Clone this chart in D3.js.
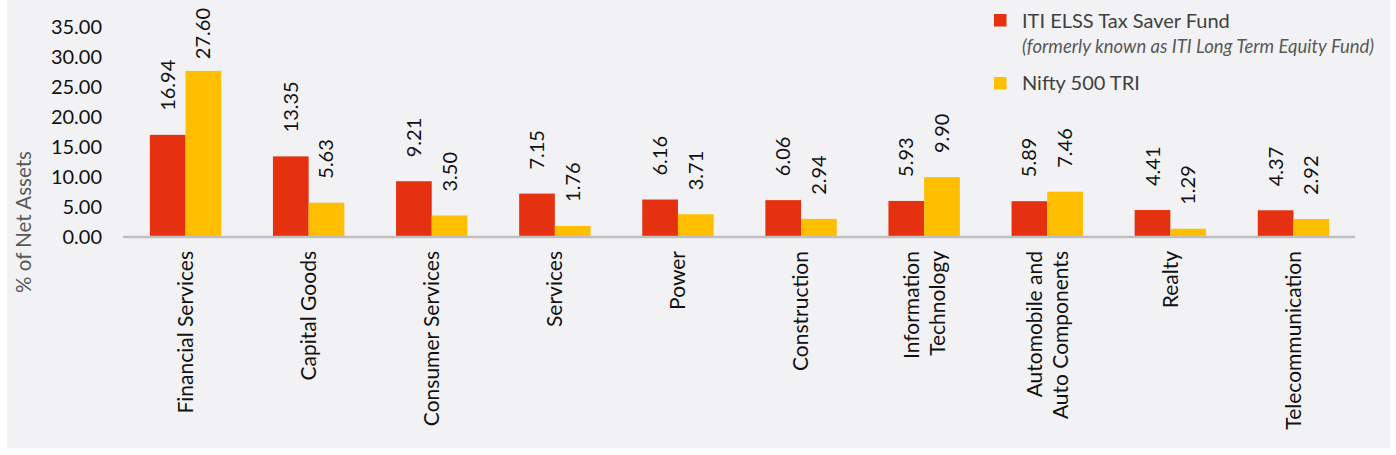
<!DOCTYPE html>
<html>
<head>
<meta charset="utf-8">
<script src="https://cdn.jsdelivr.net/npm/d3@7"></script>
<style>
  html, body { margin: 0; padding: 0; background: #ffffff; }
  svg { display: block; }
  text { font-family: Lato, "Open Sans", sans-serif; }
</style>
</head>
<body>
<svg id="chart" width="1396" height="455"></svg>
<script>
const categories = [
  ["Financial Services"],
  ["Capital Goods"],
  ["Consumer Services"],
  ["Services"],
  ["Power"],
  ["Construction"],
  ["Information", "Technology"],
  ["Automobile and", "Auto Components"],
  ["Realty"],
  ["Telecommunication"]
];
const fundValues  = [16.94, 13.35, 9.21, 7.15, 6.16, 6.06, 5.93, 5.89, 4.41, 4.37];
const indexValues = [27.60, 5.63, 3.50, 1.76, 3.71, 2.94, 9.90, 7.46, 1.29, 2.92];
const seriesNames = ["ITI ELSS Tax Saver Fund", "Nifty 500 TRI"];
const legendNote = "(formerly known as ITI Long Term Equity Fund)";
const yTicks = [0, 5, 10, 15, 20, 25, 30, 35];
const yTitle = "% of Net Assets";

const colors = ["#E5310F", "#FFBE00"];

const svg = d3.select("#chart");
svg.append("rect").attr("x", 7).attr("y", 0).attr("width", 1383).attr("height", 448).attr("fill", "#F2F2F4");

const x0 = d3.scaleBand().domain(d3.range(categories.length)).range([124, 1355]).paddingInner(0.42).paddingOuter(0.21);
const x1 = d3.scaleBand().domain([0, 1]).range([0, x0.bandwidth()]);
const y = d3.scaleLinear().domain([0, 35]).range([236.5, 26.5]);

// y axis tick labels
const yAxis = d3.axisLeft(y).tickValues(yTicks).tickFormat(d3.format(".2f")).tickSize(0).tickPadding(0);
const yg = svg.append("g").attr("transform", "translate(102,0)").call(yAxis);
yg.select(".domain").remove();
yg.selectAll("text").attr("font-size", 20).attr("fill", "#111").attr("font-family", "Lato, sans-serif").attr("dy", "0.35em");

// y title
svg.append("text")
  .attr("transform", "translate(31,222) rotate(-90)")
  .attr("text-anchor", "middle")
  .attr("font-size", 20.5)
  .attr("fill", "#595959")
  .text(yTitle);

// bars
const data = categories.map((c, i) => ({ i, vals: [fundValues[i], indexValues[i]] }));
const groups = svg.append("g").selectAll("g").data(data).join("g")
  .attr("transform", d => `translate(${x0(d.i)},0)`);

groups.selectAll("rect").data(d => d.vals.map((v, s) => ({ v, s }))).join("rect")
  .attr("x", d => x1(d.s))
  .attr("width", x1.bandwidth())
  .attr("y", d => y(d.v))
  .attr("height", d => y(0) - y(d.v))
  .attr("fill", d => colors[d.s]);

// value labels (kept inside the top of the plot area)
groups.selectAll("text.val").data(d => d.vals.map((v, s) => ({ v, s }))).join("text")
  .attr("class", "val")
  .attr("dy", "0.35em")
  .attr("text-anchor", "start")
  .attr("font-size", 20)
  .attr("fill", "#111")
  .text(d => d3.format(".2f")(d.v))
  .each(function(d) {
    const len = this.getComputedTextLength();
    const start = Math.max(y(d.v) - 24, 8 + len);
    d3.select(this).attr("transform", `translate(${x1(d.s) + x1.bandwidth() / 2},${start}) rotate(-90)`);
  });

// x axis line
svg.append("line").attr("x1", 123).attr("x2", 1355).attr("y1", 237).attr("y2", 237)
  .attr("stroke", "#BFBFBF").attr("stroke-width", 2.5);

// category labels
const catG = svg.append("g").selectAll("g").data(categories).join("g")
  .attr("transform", (d, i) => `translate(${x0(i) + x0.bandwidth() / 2},251) rotate(-90)`);
catG.each(function(lines) {
  const g = d3.select(this);
  const n = lines.length;
  lines.forEach((ln, k) => {
    g.append("text")
      .attr("text-anchor", "end")
      .attr("y", (k - (n - 1) / 2) * 26)
      .attr("dy", "0.35em")
      .attr("font-size", 21)
      .attr("fill", "#111")
      .text(ln);
  });
});

// legend
const lg = svg.append("g");
lg.append("rect").attr("x", 994).attr("y", 14).attr("width", 12.5).attr("height", 12.5).attr("fill", colors[0]);
lg.append("text").attr("x", 1022).attr("y", 28).attr("font-size", 20).attr("fill", "#404040").text(seriesNames[0]);
lg.append("text").attr("x", 1022).attr("y", 53).attr("font-size", 18.5).attr("font-style", "italic").attr("fill", "#595959").text(legendNote);
lg.append("rect").attr("x", 994).attr("y", 77).attr("width", 12.5).attr("height", 12.5).attr("fill", colors[1]);
lg.append("text").attr("x", 1022).attr("y", 90).attr("font-size", 20).attr("fill", "#404040").text(seriesNames[1]);
</script>
</body>
</html>
